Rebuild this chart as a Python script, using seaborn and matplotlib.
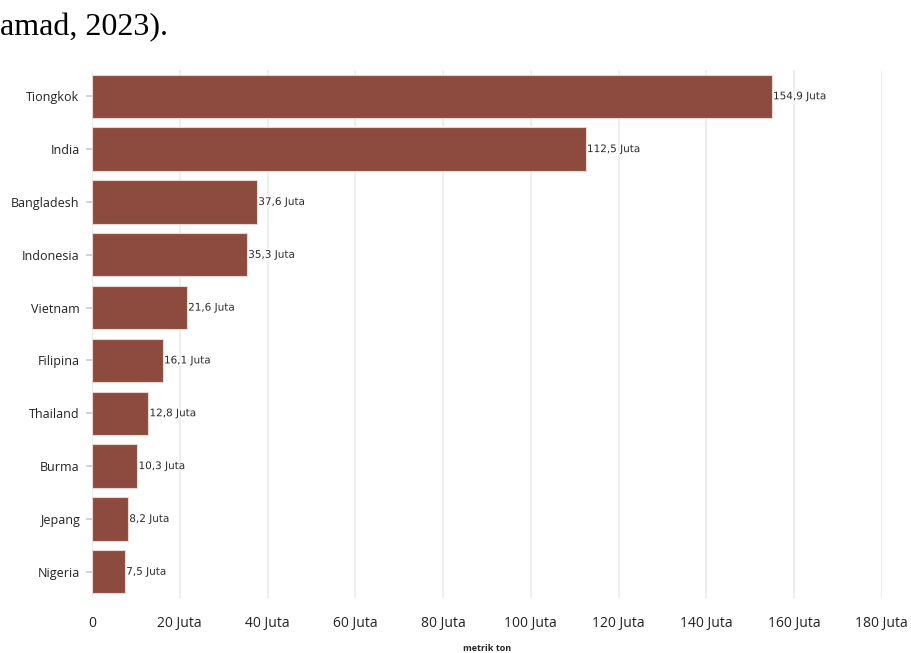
import pandas as pd
import matplotlib.pyplot as plt
import matplotlib.patheffects as pe
import seaborn as sns

# Data: rice production by country (million metric tons)
countries = ["Tiongkok", "India", "Bangladesh", "Indonesia", "Vietnam",
             "Filipina", "Thailand", "Burma", "Jepang", "Nigeria"]
production = [154.9, 112.5, 37.6, 35.3, 21.6, 16.1, 12.8, 10.3, 8.2, 7.5]
x_ticks = [0, 20, 40, 60, 80, 100, 120, 140, 160, 180]
x_tick_labels = ["0", "20 Juta", "40 Juta", "60 Juta", "80 Juta", "100 Juta",
                 "120 Juta", "140 Juta", "160 Juta", "180 Juta"]

df = pd.DataFrame({"country": countries, "production": production})

sns.set_theme(style="white")
plt.rcParams['font.family'] = ['Open Sans', 'DejaVu Sans']

fig = plt.figure(figsize=(9.11, 6.53), dpi=100)
ax = fig.add_axes([0.101, 0.084, 0.867, 0.809])

sns.barplot(data=df, x="production", y="country", color="#8c4b3e",
            saturation=1, width=0.82, edgecolor="#e8d6d2", linewidth=0.8, ax=ax)

# value labels
for val, patch in zip(production, ax.patches):
    y = patch.get_y() + patch.get_height() / 2
    label = f"{val:.1f}".replace(".", ",") + " Juta"
    ax.text(val + 0.3, y, label, va="center", ha="left", fontsize=7.5,
            family="DejaVu Sans", color="#2a2a2a",
            path_effects=[pe.withStroke(linewidth=2, foreground="white")])

ax.set_xlim(0, 180)
ax.set_xticks(x_ticks)
ax.set_xticklabels(x_tick_labels, fontsize=10, color="#222222")
ax.tick_params(axis="x", length=0, pad=13)
ax.tick_params(axis="y", length=4, color="#cccccc", labelsize=9,
               labelcolor="#222222", left=True, pad=5)
ax.xaxis.grid(True, color="#eeeeee", linewidth=1.5)
ax.set_axisbelow(True)
for s in ax.spines.values():
    s.set_visible(False)
ax.set_ylabel("")
ax.set_xlabel("metrik ton", fontsize=6.5, fontweight="bold", labelpad=9)

# fragment of the surrounding document caption
fig.text(0.0, 0.958, "amad, 2023).", fontsize=23, family="Liberation Serif",
         color="black", ha="left", va="center")

plt.savefig("out.png", dpi=100)
